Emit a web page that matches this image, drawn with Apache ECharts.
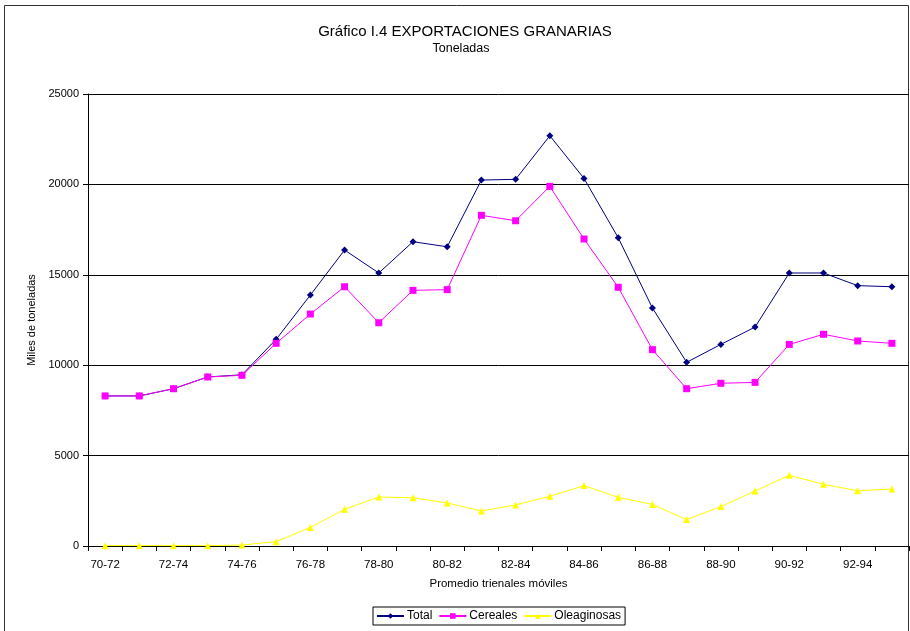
<!DOCTYPE html>
<html><head><meta charset="utf-8">
<script src="https://cdn.jsdelivr.net/npm/echarts@6/dist/echarts.min.js"></script>
<style>html,body{margin:0;padding:0;background:#fff}#c{width:910px;height:631px}</style>
</head><body><div id="c"></div>
<script>
const categories = ["70-72","71-73","72-74","73-75","74-76","75-77","76-78","77-79","78-80","79-81","80-82","81-83","82-84","83-85","84-86","85-87","86-88","87-89","88-90","89-91","90-92","91-93","92-94","93-95"];
const total = [8300,8300,8700,9350,9470,11430,13880,16370,15100,16830,16550,20240,20280,22690,20330,17050,13160,10160,11150,12110,15100,15100,14400,14340];
const cereales = [8300,8300,8700,9350,9440,11210,12830,14340,12350,14140,14180,18290,17990,19890,16980,14310,10860,8700,9000,9050,11150,11710,11340,11210];
const oleaginosas = [20,20,20,20,55,240,1030,2030,2710,2670,2380,1940,2270,2750,3340,2690,2300,1460,2180,3040,3910,3410,3060,3150];
const yTicks = {min:0, max:25000, interval:5000};

const FONT = "Liberation Sans, Arial, sans-serif";
const chart = echarts.init(document.getElementById('c'), null, {renderer:'canvas'});
chart.setOption({
  animation:false,
  backgroundColor:'#fff',
  textStyle:{fontFamily:FONT},
  title:[{
    text:'Gráfico I.4 EXPORTACIONES GRANARIAS',
    left:465, top:24, textAlign:'center', padding:0,
    textStyle:{fontFamily:FONT,fontSize:15,fontWeight:'normal',color:'#000'}
  },{
    text:'Toneladas',
    left:461, top:42, textAlign:'center', padding:0,
    textStyle:{fontFamily:FONT,fontSize:12.5,fontWeight:'normal',color:'#000'}
  }],
  graphic:[{type:'rect',shape:{x:4.5,y:5.5,width:904,height:700},style:{fill:'none',stroke:'#333',lineWidth:1},silent:true}],
  legend:{
    left:373, top:607, orient:'horizontal',
    data:['Total','Cereales','Oleaginosas'],
    borderColor:'#000', borderWidth:1, padding:[3,4,3,3],
    itemGap:6, itemWidth:27, itemHeight:7,
    textStyle:{fontFamily:FONT,fontSize:12,color:'#000',padding:[0,0,0,-2]}
  },
  grid:{left:88, right:1, top:94, bottom:85, containLabel:false},
  xAxis:{
    type:'category', data:categories, boundaryGap:true,
    name:'Promedio trienales móviles', nameLocation:'middle', nameGap:32,
    nameTextStyle:{fontFamily:FONT,fontSize:11.5,color:'#000'},
    axisLine:{lineStyle:{color:'#000',width:1}},
    axisTick:{show:true,interval:0,length:5,lineStyle:{color:'#000'}},
    axisLabel:{interval:1,color:'#000',fontSize:11.5,fontFamily:FONT,margin:13},
    splitLine:{show:false}
  },
  yAxis:{
    type:'value', min:yTicks.min, max:yTicks.max, interval:yTicks.interval,
    name:'Miles de toneladas', nameLocation:'middle', nameGap:51, nameRotate:90,
    nameTextStyle:{fontFamily:FONT,fontSize:11,color:'#000'},
    axisLine:{show:true,lineStyle:{color:'#000',width:1}},
    axisTick:{show:true,length:5,lineStyle:{color:'#000'}},
    axisLabel:{color:'#000',fontSize:11,fontFamily:FONT,margin:9,formatter:function(v){return String(v);}},
    splitLine:{show:true,lineStyle:{color:'#000',width:1}}
  },
  series:[
    {name:'Total',type:'line',data:total,symbol:'diamond',symbolSize:7,
     lineStyle:{color:'#000080',width:1},itemStyle:{color:'#000080'}},
    {name:'Cereales',type:'line',data:cereales,symbol:'rect',symbolSize:7,
     lineStyle:{color:'#FF00FF',width:1},itemStyle:{color:'#FF00FF'}},
    {name:'Oleaginosas',type:'line',data:oleaginosas,symbol:'triangle',symbolSize:7,
     lineStyle:{color:'#FFFF00',width:1},itemStyle:{color:'#FFFF00'}}
  ]
});
</script></body></html>
